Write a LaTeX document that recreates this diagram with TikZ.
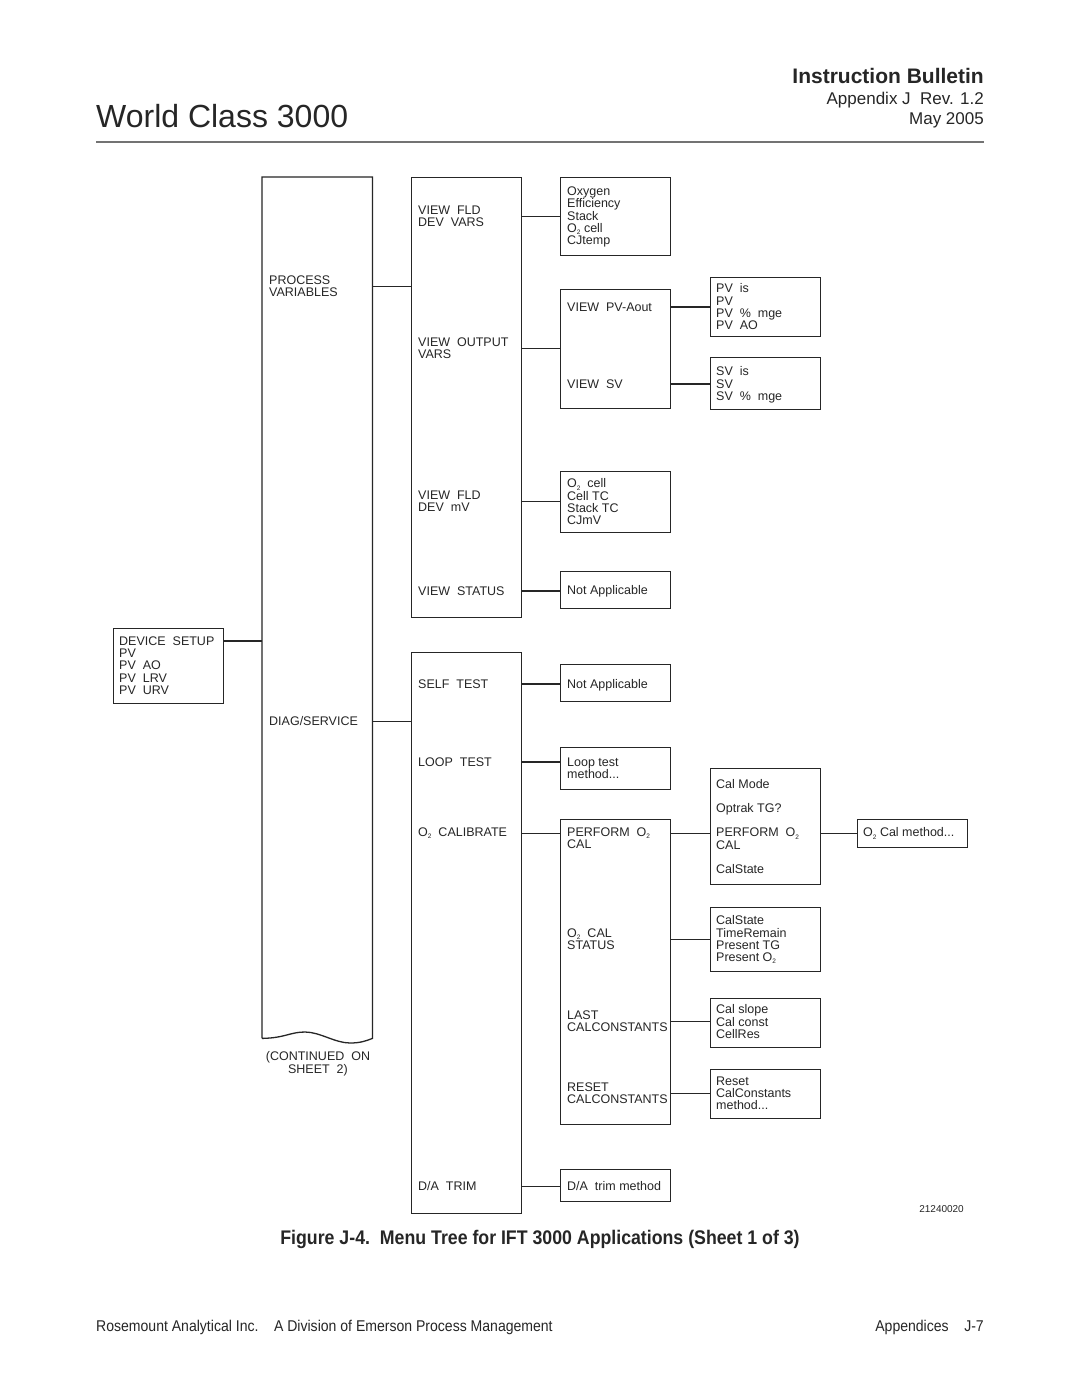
\documentclass[tikz,border=0pt]{standalone}
\usepackage{fontspec}
\setmainfont{Liberation Sans}
\newfontfamily\narrowfont[FakeStretch=0.9]{Liberation Sans}
\newcommand{\menufont}{\fontsize{12.5}{12.3}\selectfont}
\newcommand{\Otwo}{O\raisebox{-0.35ex}{\fontsize{6.5}{7}\selectfont 2}}
\tikzset{
  menubox/.style={draw, line width=1.3pt, inner sep=0pt, anchor=north west, minimum width=110pt},
  menutext/.style={anchor=north west, inner sep=0pt, align=left, font=\menufont},
  link/.style={line width=1.3pt}
}
\begin{document}
\begin{tikzpicture}[x=1pt,y=-1pt,color=black!85]
\useasboundingbox[fill=white] (0,0) rectangle (1080,1397);

% page head
\node[anchor=base west, inner sep=0pt, font=\fontsize{32}{36}\selectfont] (title) at (96,127) {World Class 3000};
\node[anchor=base east, inner sep=0pt, font=\fontsize{21}{24}\selectfont\bfseries] (bulletin) at (984,84) {Instruction Bulletin};
\node[anchor=base east, inner sep=0pt, font=\fontsize{17}{20}\selectfont] (appendix) at (984,104) {Appendix J~~Rev. 1.2};
\node[anchor=base east, inner sep=0pt, font=\fontsize{17}{20}\selectfont] (date) at (984,124) {May 2005};
\draw[line width=1.5pt, black!55] (96,142) -- (984,142);

% boxes
\node[menubox, minimum height=75pt] (devset) at (113,628) {};
\node[inner sep=0pt, anchor=north west, minimum width=110pt, minimum height=861pt] (root) at (262,177) {};
\node[menubox, minimum height=440pt] (viewbox) at (411,177) {};
\node[menubox, minimum height=78pt] (fldbox) at (560,177) {};
\node[menubox, minimum height=119pt] (outbox) at (560,289) {};
\node[menubox, minimum height=59pt] (pvbox) at (710,277) {};
\node[menubox, minimum height=52pt] (svbox) at (710,357) {};
\node[menubox, minimum height=61pt] (mvbox) at (560,471) {};
\node[menubox, minimum height=37pt] (statbox) at (560,571) {};
\node[menubox, minimum height=561pt] (diagbox) at (411,652) {};
\node[menubox, minimum height=37pt] (selfbox) at (560,664) {};
\node[menubox, minimum height=42pt] (loopbox) at (560,747) {};
\node[menubox, minimum height=305pt] (calbox) at (560,819) {};
\node[menubox, minimum height=32pt] (trimbox) at (560,1169) {};
\node[menubox, minimum height=116pt] (modebox) at (710,768) {};
\node[menubox, minimum height=64pt] (stbox) at (710,907) {};
\node[menubox, minimum height=49pt] (slopebox) at (710,998) {};
\node[menubox, minimum height=49pt] (resetbox) at (710,1069) {};
\node[menubox, minimum height=28pt] (o2box) at (857,819) {};

% root box with torn bottom edge
\draw[line width=1.3pt] (root.south west) -- (root.north west) -- (root.north east) -- (root.south east)
  .. controls (366,1041) and (360,1043) .. (350,1043)
  .. controls (335,1043) and (320,1032) .. (305,1032)
  .. controls (290,1032) and (285,1038) .. (root.south west);

% texts
\node[menutext] (devhead) at (119,636.5) {DEVICE~~SETUP};
\node[menutext] (devvars) at (119,648.8) {PV\\PV~~AO\\PV~~LRV\\PV~~URV};
\node[menutext] (procvar) at (269,275.5) {PROCESS\\VARIABLES};
\node[menutext] (diag) at (269,716.5) {DIAG/SERVICE};
\node[anchor=north, inner sep=0pt, align=center, font=\menufont] (cont) at (318,1051.5) {(CONTINUED~~ON\\SHEET~~2)};

\node[menutext] (flddev) at (418,205.5) {VIEW~~FLD\\DEV~~VARS};
\node[menutext] (outvars) at (418,337.5) {VIEW~~OUTPUT\\VARS};
\node[menutext] (fldmv) at (418,490.5) {VIEW~~FLD\\DEV~~mV};
\node[menutext] (viewstat) at (418,586.5) {VIEW~~STATUS};

\node[menutext] (fldlist) at (567,186.5) {Oxygen\\Efficiency\\Stack\\\Otwo\ cell\\CJtemp};
\node[menutext] (pvaout) at (567,302.5) {VIEW~~PV-Aout};
\node[menutext] (viewsv) at (567,379.5) {VIEW~~SV};
\node[menutext] (pvlist) at (716,283.5) {PV~~is\\PV\\PV~~\%~~mge\\PV~~AO};
\node[menutext] (svlist) at (716,366.5) {SV~~is\\SV\\SV~~\%~~mge};
\node[menutext] (mvlist) at (567,478.5) {\Otwo~~cell\\Cell TC\\Stack TC\\CJmV};
\node[menutext] (statna) at (567,585.5) {Not Applicable};

\node[menutext] (selftest) at (418,679.5) {SELF~~TEST};
\node[menutext] (looptest) at (418,757.5) {LOOP~~TEST};
\node[menutext] (o2cal) at (418,827.5) {\Otwo~~CALIBRATE};
\node[menutext] (datrim) at (418,1181.5) {D/A~~TRIM};

\node[menutext] (selfna) at (567,679.5) {Not Applicable};
\node[menutext] (loopm) at (567,757.5) {Loop test\\method...};
\node[menutext] (perf) at (567,827.5) {PERFORM~~\Otwo};
\node[menutext] (perfcal) at (567,840) {CAL};
\node[menutext] (calstat) at (567,928.5) {\Otwo~~CAL\\STATUS};
\node[menutext] (lastcc) at (567,1010.5) {LAST\\CALCONSTANTS};
\node[menutext] (resetcc) at (567,1082.5) {RESET\\CALCONSTANTS};
\node[menutext] (trimm) at (567,1181.5) {D/A~~trim method};

\node[menutext] (modelist) at (716,779.5) {Cal Mode\\[11.7pt]Optrak TG?\\[11.7pt]PERFORM~~\Otwo\\CAL\\[12.3pt]CalState};
\node[menutext] (stlist) at (716,915.5) {CalState\\TimeRemain\\Present TG\\Present \Otwo};
\node[menutext] (slopelist) at (716,1004.5) {Cal slope\\Cal const\\CellRes};
\node[menutext] (resetlist) at (716,1076.5) {Reset\\CalConstants\\method...};
\node[menutext] (o2calm) at (863,827.5) {\Otwo\ Cal method...};

\node[anchor=base east, inner sep=0pt, font=\fontsize{10}{12}\selectfont] (fignum) at (964,1212) {21240020};

% connectors
\draw[link] (devset.east |- devhead.west) -- (root.west |- devhead.west);
\draw[link] (root.east |- procvar.west) -- (viewbox.west |- procvar.west);
\draw[link] (root.east |- diag.west) -- (diagbox.west |- diag.west);
\draw[link] (viewbox.east |- flddev.west) -- (fldbox.west |- flddev.west);
\draw[link] (viewbox.east |- outvars.west) -- (outbox.west |- outvars.west);
\draw[link] (viewbox.east |- fldmv.west) -- (mvbox.west |- fldmv.west);
\draw[link] (viewbox.east |- viewstat.west) -- (statbox.west |- viewstat.west);
\draw[link] (outbox.east |- pvaout.west) -- (pvbox.west |- pvaout.west);
\draw[link] (outbox.east |- viewsv.west) -- (svbox.west |- viewsv.west);
\draw[link] (diagbox.east |- selftest.west) -- (selfbox.west |- selftest.west);
\draw[link] (diagbox.east |- looptest.west) -- (loopbox.west |- looptest.west);
\draw[link] (diagbox.east |- o2cal.west) -- (calbox.west |- o2cal.west);
\draw[link] (diagbox.east |- datrim.west) -- (trimbox.west |- datrim.west);
\draw[link] (calbox.east |- perf.west) -- (modebox.west |- perf.west);
\draw[link] (calbox.east |- calstat.west) -- (stbox.west |- calstat.west);
\draw[link] (calbox.east |- lastcc.west) -- (slopebox.west |- lastcc.west);
\draw[link] (calbox.east |- resetcc.west) -- (resetbox.west |- resetcc.west);
\draw[link] (modebox.east |- o2calm.west) -- (o2box.west |- o2calm.west);

% caption and foot
\node[anchor=base, inner sep=0pt, font=\narrowfont\fontsize{19.7}{22}\selectfont\bfseries] (caption) at (540,1244) {Figure J-4.~~Menu Tree for IFT 3000 Applications (Sheet 1 of 3)};
\node[anchor=base west, inner sep=0pt, font=\narrowfont\fontsize{15.6}{18}\selectfont] (company) at (96,1331) {Rosemount Analytical Inc.~~~~A Division of Emerson Process Management};
\node[anchor=base east, inner sep=0pt, font=\narrowfont\fontsize{15.6}{18}\selectfont] (pageno) at (984,1331) {Appendices~~~~J-7};
\end{tikzpicture}
\end{document}
